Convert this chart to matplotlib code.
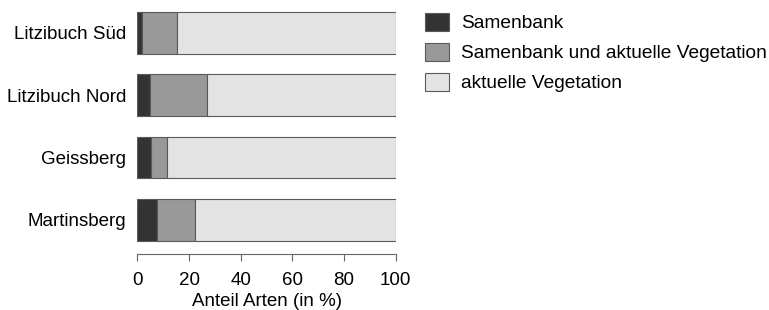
import matplotlib
matplotlib.use("Agg")
import matplotlib.pyplot as plt
from matplotlib.patches import Patch
import numpy as np

plt.rcParams['font.family'] = ['Liberation Sans', 'DejaVu Sans']

sites = ["Martinsberg", "Geissberg", "Litzibuch Nord", "Litzibuch Süd"]
samenbank = [7.7, 5.3, 5.0, 1.9]
beide = [14.7, 6.3, 21.8, 13.6]
aktuell = [77.6, 88.4, 73.2, 84.5]
series_labels = ["Samenbank", "Samenbank und aktuelle Vegetation", "aktuelle Vegetation"]
colors = ["#333333", "#999999", "#e3e3e3"]
xticks = [0, 20, 40, 60, 80, 100]
FS = 13.5

fig = plt.figure(figsize=(7.69, 3.10), dpi=100)
ax = fig.add_axes([0.1786, 0.1806, 0.336, 0.8134])

y = np.arange(len(sites))
left = np.zeros(len(sites))
for vals, col in zip([samenbank, beide, aktuell], colors):
    ax.barh(y, vals, left=left, height=0.667, color=col, edgecolor="#5a5a5a", linewidth=0.8)
    left += np.array(vals)

ax.set_xlim(0, 100)
ax.set_ylim(-0.55, 3.5)
ax.set_yticks(y)
ax.set_yticklabels(sites, fontsize=FS)
ax.set_xticks(xticks)
ax.set_xticklabels([str(t) for t in xticks], fontsize=FS)
ax.set_xlabel("Anteil Arten (in %)", fontsize=FS, labelpad=3)
for s in ["top", "right", "left"]:
    ax.spines[s].set_visible(False)
ax.spines["bottom"].set_color("#666666")
ax.spines["bottom"].set_linewidth(0.8)
ax.tick_params(axis="y", length=0, pad=8)
ax.tick_params(axis="x", length=5, color="#666666", width=0.8, pad=8)
ax.spines["bottom"].set_bounds(0, 100)

handles = [Patch(facecolor=c, edgecolor="#5a5a5a", linewidth=0.8) for c in colors]
fig.legend(handles, series_labels, loc="upper left", bbox_to_anchor=(0.5527, 0.958),
           frameon=False, fontsize=13.8, handlelength=1.25, handleheight=1.05,
           handletextpad=0.62, labelspacing=0.55, borderaxespad=0, borderpad=0)

fig.savefig("out.png", dpi=100)
